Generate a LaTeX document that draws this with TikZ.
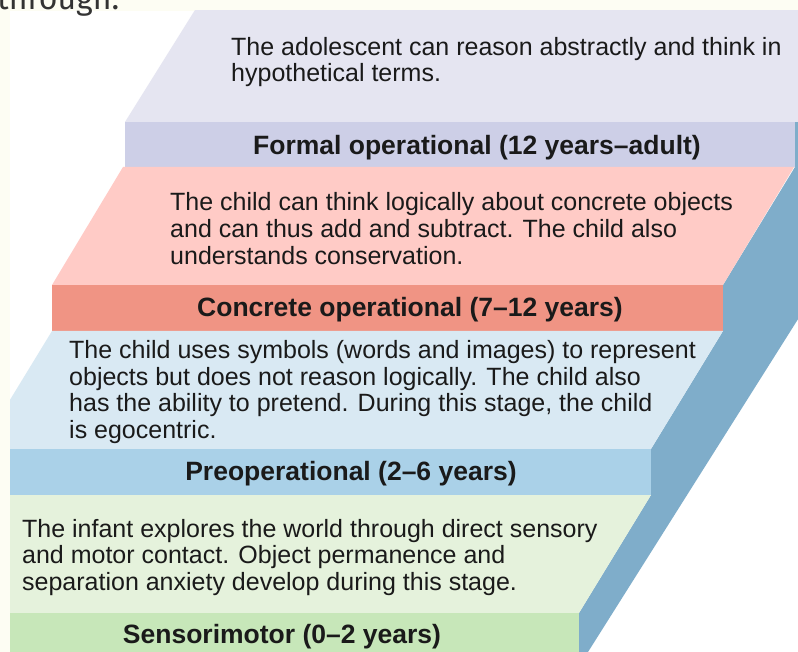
\documentclass[tikz,border=0pt]{standalone}
\usepackage{fontspec}
\setmainfont{Liberation Sans}
\newfontfamily\thrfont{Fira Sans}
\definecolor{cream}{HTML}{FDFDF3}
\definecolor{lav}{HTML}{E5E5F1}
\definecolor{formalband}{HTML}{CDCFE7}
\definecolor{pinkface}{HTML}{FFCBC6}
\definecolor{concband}{HTML}{F09484}
\definecolor{lbface}{HTML}{D9E9F3}
\definecolor{preband}{HTML}{AAD1E8}
\definecolor{gface}{HTML}{E5F2DC}
\definecolor{sband}{HTML}{C7E7B9}
\definecolor{side}{HTML}{7FADCA}
\definecolor{txt}{HTML}{1A1A1A}
\tikzset{
  body/.style={anchor=west, align=left, inner sep=0pt, text=txt,
    font=\fontsize{25}{26.7}\selectfont},
  lab/.style={inner sep=0pt, text=txt, font=\bfseries\fontsize{26.5}{30}\selectfont},
}
\begin{document}
\begin{tikzpicture}[x=1pt,y=-1pt]
\useasboundingbox (0,0) rectangle (798,652);
\fill[cream] (0,0) rectangle (798,652);
\fill[white] (10,11) rectangle (798,652);
\begin{scope}
\clip (10,11) rectangle (798,652);
\fill[side] (795,122) -- (795,167) -- (723,285) -- (723,331) -- (651,449) -- (651,495)
  -- (579,613) -- (579,660) -- (588,652) -- (800,316) -- (800,122) -- cycle;
\fill[lav] (125,122) -- (195,10) -- (900,10) -- (900,122) -- cycle;
\fill[formalband] (125,122) rectangle (795,167);
\fill[pinkface] (52,285) -- (123,167) -- (794,167) -- (723,285) -- cycle;
\fill[concband] (52,285) rectangle (723,331);
\fill[lbface] (-20,449) -- (52,331) -- (723,331) -- (651,449) -- cycle;
\fill[preband] (-20,449) rectangle (651,495);
\fill[gface] (-92,613) -- (-20,495) -- (651,495) -- (579,613) -- cycle;
\fill[sband] (-92,613) rectangle (579,660);
\end{scope}
\node[anchor=base west, inner sep=0pt, text=black!80, font=\thrfont\fontsize{32}{34}\selectfont] (thr) at (-3,10) {through.};
\node[body] (t1) at (231,62) {The adolescent can reason abstractly and think in\\hypothetical terms.};
\node[lab] (l1) at (477,147.5) {Formal operational (12 years–adult)};
\node[body] (t2) at (170,228.5) {The child can think logically about concrete objects\\and can thus add and subtract. The child also\\understands conservation.};
\node[lab] (l2) at (410,309.5) {Concrete operational (7–12 years)};
\node[body] (t3) at (69,392) {The child uses symbols (words and images) to represent\\objects but does not reason logically. The child also\\has the ability to pretend. During this stage, the child\\is egocentric.};
\node[lab] (l3) at (351,473.5) {Preoperational (2–6 years)};
\node[body] (t4) at (22,557.5) {The infant explores the world through direct sensory\\and motor contact. Object permanence and\\separation anxiety develop during this stage.};
\node[lab] (l4) at (282,636.5) {Sensorimotor (0–2 years)};
\end{tikzpicture}
\end{document}
